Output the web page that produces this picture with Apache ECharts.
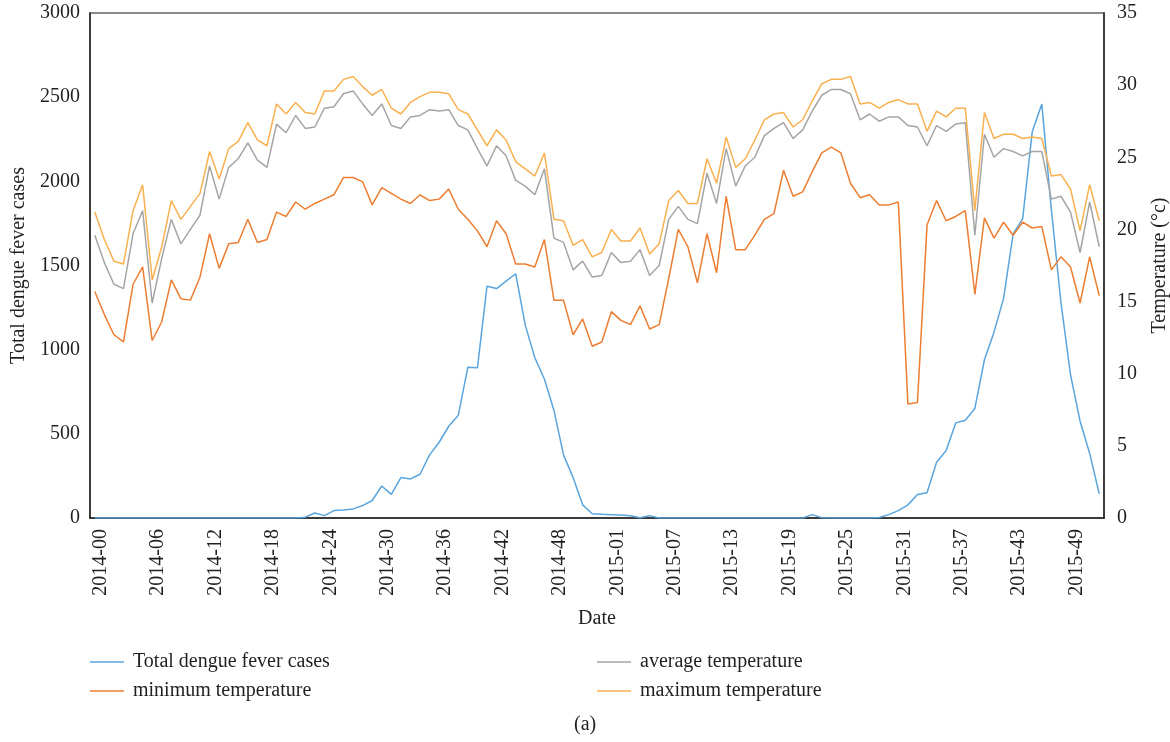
<!DOCTYPE html>
<html>
<head>
<meta charset="utf-8">
<script src="https://cdn.jsdelivr.net/npm/echarts@6/dist/echarts.min.js"></script>
<style>
  html, body { margin: 0; padding: 0; background: #fff; }
  #chart { width: 1170px; height: 742px; }
</style>
</head>
<body>
<div id="chart"></div>
<script>
// weekly categories (year-week)
const weeks = [
  '2014-00','2014-01','2014-02','2014-03','2014-04','2014-05','2014-06','2014-07','2014-08','2014-09',
  '2014-10','2014-11','2014-12','2014-13','2014-14','2014-15','2014-16','2014-17','2014-18','2014-19',
  '2014-20','2014-21','2014-22','2014-23','2014-24','2014-25','2014-26','2014-27','2014-28','2014-29',
  '2014-30','2014-31','2014-32','2014-33','2014-34','2014-35','2014-36','2014-37','2014-38','2014-39',
  '2014-40','2014-41','2014-42','2014-43','2014-44','2014-45','2014-46','2014-47','2014-48','2014-49',
  '2014-50','2014-51','2014-52',
  '2015-00','2015-01','2015-02','2015-03','2015-04','2015-05','2015-06','2015-07','2015-08','2015-09',
  '2015-10','2015-11','2015-12','2015-13','2015-14','2015-15','2015-16','2015-17','2015-18','2015-19',
  '2015-20','2015-21','2015-22','2015-23','2015-24','2015-25','2015-26','2015-27','2015-28','2015-29',
  '2015-30','2015-31','2015-32','2015-33','2015-34','2015-35','2015-36','2015-37','2015-38','2015-39',
  '2015-40','2015-41','2015-42','2015-43','2015-44','2015-45','2015-46','2015-47','2015-48','2015-49',
  '2015-50','2015-51','2015-52'
]

// total dengue fever cases (left axis)
const cases = [
  0, 0, 0, 0, 0, 0, 0, 0, 0, 0,
  0, 0, 0, 0, 0, 0, 0, 0, 0, 0,
  0, 0, 5, 30, 14, 44, 48, 54, 74, 104,
  190, 140, 240, 232, 260, 375, 450, 545, 610, 896,
  892, 1377, 1363, 1407, 1451, 1146, 952, 826, 639, 375,
  240, 78, 25, 22, 20, 18, 14, 2, 14, 0,
  0, 0, 0, 0, 0, 0, 0, 0, 0, 0,
  0, 0, 0, 0, 0, 20, 2, 0, 0, 0,
  0, 0, 3, 20, 44, 78, 140, 150, 331, 401,
  565, 581, 651, 940, 1104, 1303, 1687, 1778, 2295, 2459,
  1830, 1280, 851, 575, 385, 144
]

// temperatures (right axis, °C)
const minTemp = [
  15.7, 14.1, 12.7, 12.2, 16.2, 17.4, 12.3, 13.6, 16.5, 15.2,
  15.1, 16.7, 19.7, 17.3, 19.0, 19.1, 20.7, 19.1, 19.3, 21.2,
  20.9, 21.9, 21.4, 21.8, 22.1, 22.4, 23.6, 23.6, 23.3, 21.7,
  22.9, 22.5, 22.1, 21.8, 22.4, 22.0, 22.1, 22.8, 21.4, 20.7,
  19.9, 18.8, 20.6, 19.7, 17.6, 17.6, 17.4, 19.3, 15.1, 15.1,
  12.7, 13.8, 11.9, 12.2, 14.3, 13.7, 13.4, 14.7, 13.1, 13.4,
  16.6, 20.0, 18.8, 16.3, 19.7, 17.0, 22.3, 18.6, 18.6, 19.6,
  20.7, 21.1, 24.1, 22.3, 22.6, 24.0, 25.3, 25.7, 25.3, 23.2,
  22.2, 22.4, 21.7, 21.7, 21.9, 7.9, 8.0, 20.3, 22.0, 20.6,
  20.9, 21.3, 15.5, 20.8, 19.4, 20.5, 19.6, 20.5, 20.1, 20.2,
  17.2, 18.1, 17.4, 14.9, 18.1, 15.4
]

const avgTemp = [
  19.6, 17.7, 16.2, 15.9, 19.7, 21.3, 14.9, 18.0, 20.7, 19.0,
  20.0, 21.0, 24.4, 22.1, 24.3, 24.9, 26.0, 24.8, 24.3, 27.3,
  26.7, 27.9, 27.0, 27.1, 28.4, 28.5, 29.4, 29.6, 28.7, 27.9,
  28.7, 27.2, 27.0, 27.8, 27.9, 28.3, 28.2, 28.3, 27.2, 26.9,
  25.6, 24.4, 25.8, 25.1, 23.4, 23.0, 22.4, 24.2, 19.4, 19.1,
  17.2, 17.8, 16.7, 16.8, 18.4, 17.7, 17.8, 18.6, 16.8, 17.5,
  20.7, 21.6, 20.7, 20.4, 23.9, 21.8, 25.6, 23.0, 24.4, 25.0,
  26.5, 27.0, 27.4, 26.3, 26.9, 28.2, 29.3, 29.7, 29.7, 29.4,
  27.6, 28.0, 27.5, 27.8, 27.8, 27.2, 27.1, 25.8, 27.2, 26.8,
  27.3, 27.4, 19.6, 26.6, 25.0, 25.6, 25.4, 25.1, 25.4, 25.4,
  22.1, 22.3, 21.2, 18.4, 21.9, 18.8
]

const maxTemp = [
  21.2, 19.3, 17.8, 17.6, 21.3, 23.1, 16.5, 18.8, 22.0, 20.7,
  21.6, 22.5, 25.4, 23.5, 25.6, 26.1, 27.4, 26.2, 25.8, 28.7,
  28.0, 28.8, 28.1, 28.0, 29.6, 29.6, 30.4, 30.6, 29.9, 29.3,
  29.7, 28.4, 28.0, 28.8, 29.2, 29.5, 29.5, 29.4, 28.3, 28.0,
  26.9, 25.8, 26.9, 26.2, 24.7, 24.2, 23.7, 25.3, 20.7, 20.6,
  18.9, 19.3, 18.1, 18.4, 20.0, 19.2, 19.2, 20.1, 18.3, 19.0,
  22.0, 22.7, 21.8, 21.8, 24.9, 23.2, 26.4, 24.3, 24.9, 26.2,
  27.6, 28.0, 28.1, 27.1, 27.6, 28.9, 30.1, 30.4, 30.4, 30.6,
  28.7, 28.8, 28.4, 28.8, 29.0, 28.7, 28.7, 26.8, 28.2, 27.8,
  28.4, 28.4, 21.3, 28.1, 26.3, 26.6, 26.6, 26.3, 26.4, 26.3,
  23.7, 23.8, 22.8, 19.9, 23.1, 20.6
]

const FONT = "'Liberation Serif', 'Times New Roman', serif"
const TEXT = '#231f20'

const chart = echarts.init(document.getElementById('chart'))

const mkLine = (name, data, color, axis) => ({
  name,
  type: 'line',
  data,
  yAxisIndex: axis,
  symbol: 'none',
  lineStyle: { color, width: 1.5 },
  itemStyle: { color },
  z: 3
})

const legendBase = {
  orient: 'vertical',
  icon: 'rect',
  itemWidth: 34,
  itemHeight: 1.5,
  itemGap: 9,
  padding: 0,
  textStyle: { fontFamily: FONT, fontSize: 20, color: TEXT, lineHeight: 20, padding: [0, 0, 0, 4] }
}

chart.setOption({
  animation: false,
  backgroundColor: '#fff',
  grid: {
    left: 90, right: 66, top: 13, bottom: 224,
    outerBoundsMode: 'none',
    show: true, borderColor: '#666', borderWidth: 1.5
  },
  legend: [
    Object.assign({}, legendBase, { left: 90, top: 652, data: ['Total dengue fever cases', 'minimum temperature'] }),
    Object.assign({}, legendBase, { left: 597, top: 652, data: ['average temperature', 'maximum temperature'] })
  ],
  xAxis: {
    type: 'category',
    data: weeks,
    boundaryGap: true,
    name: 'Date',
    nameLocation: 'middle',
    nameGap: 91,
    nameTextStyle: { fontFamily: FONT, fontSize: 20, color: TEXT, verticalAlign: 'top' },
    axisLine: { lineStyle: { color: '#222', width: 1.5 } },
    axisTick: { show: false },
    axisLabel: {
      interval: 5,
      rotate: 90,
      margin: 11,
      fontFamily: FONT,
      fontSize: 20,
      color: TEXT,
      verticalAlign: 'top',
      lineHeight: 12
    },
    splitLine: { show: false }
  },
  yAxis: [
    {
      type: 'value',
      min: 0, max: 3000, interval: 500,
      name: 'Total dengue fever cases',
      nameLocation: 'middle',
      nameGap: 58,
      nameTextStyle: { fontFamily: FONT, fontSize: 20, color: TEXT },
      axisLine: { show: true, lineStyle: { color: '#222', width: 1.5 } },
      axisTick: { show: false },
      axisLabel: { margin: 10, fontFamily: FONT, fontSize: 20, color: TEXT, formatter: v => String(v) },
      splitLine: { show: false }
    },
    {
      type: 'value',
      position: 'right',
      min: 0, max: 35, interval: 5,
      name: 'Temperature (°c)',
      nameLocation: 'middle',
      nameGap: 46,
      nameRotate: 90,
      nameTextStyle: { fontFamily: FONT, fontSize: 20, color: TEXT },
      axisLine: { show: true, lineStyle: { color: '#222', width: 1.5 } },
      axisTick: { show: false },
      axisLabel: { margin: 13, fontFamily: FONT, fontSize: 20, color: TEXT },
      splitLine: { show: false }
    }
  ],
  series: [
    mkLine('Total dengue fever cases', cases, '#5aa5dd', 0),
    mkLine('average temperature', avgTemp, '#a5a5a5', 1),
    mkLine('minimum temperature', minTemp, '#ed7d31', 1),
    mkLine('maximum temperature', maxTemp, '#f9b04f', 1)
  ],
  graphic: [{
    type: 'text',
    left: 574,
    top: 715,
    style: { text: '(a)', fontFamily: FONT, fontSize: 20, fill: TEXT }
  }]
})
</script>
</body>
</html>
